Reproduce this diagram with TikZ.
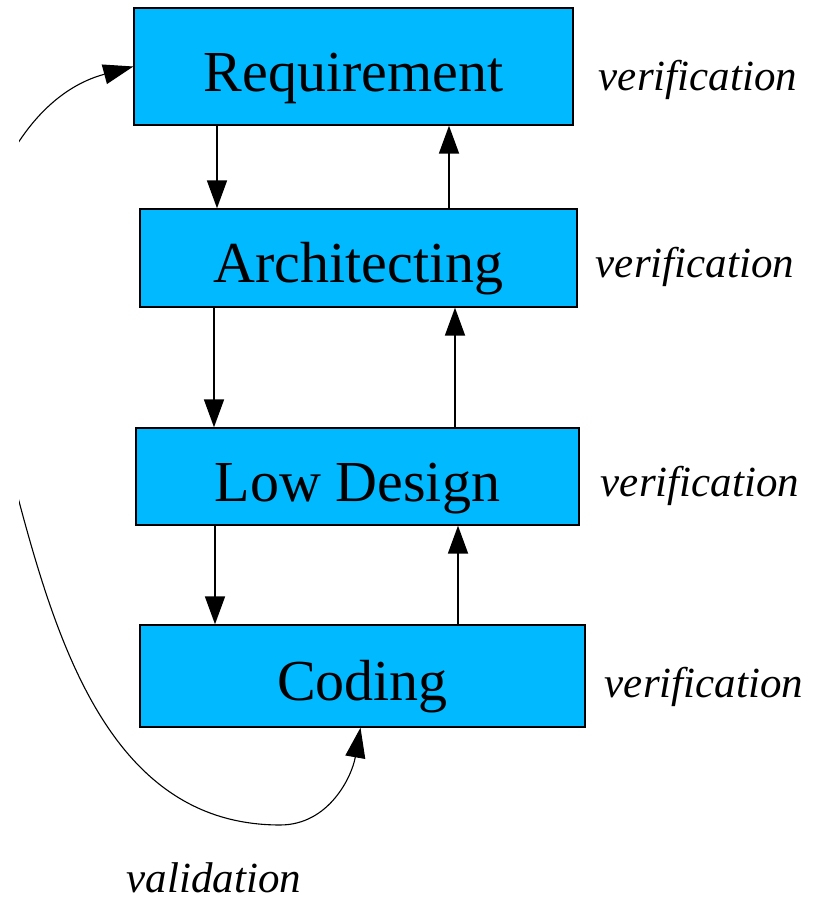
\documentclass[tikz,border=0pt]{standalone}
\usepackage{fontspec}
\setmainfont{Liberation Serif}
\usetikzlibrary{arrows.meta}

\definecolor{boxblue}{RGB}{0,185,255}

\tikzset{
  phase/.style={draw=black, line width=1.4pt, fill=boxblue, inner sep=0pt,
    font=\fontsize{58}{58}\selectfont, text height=50pt, text depth=0pt},
  flow/.style={line width=1.8pt, -{Triangle[length=28pt,width=20pt]}},
  loop/.style={line width=1.1pt, {Triangle[length=30pt,width=20pt]}-{Triangle[length=30pt,width=20pt]}},
  note/.style={font=\fontsize{43}{43}\selectfont\itshape, inner sep=0pt}
}

\begin{document}
\begin{tikzpicture}[x=1pt,y=1pt]

  \useasboundingbox (0,0) rectangle (816,902);

  \node[phase, minimum width=439pt, minimum height=117pt] (req)  at (353.5,835.5) {Requirement};
  \node[phase, minimum width=437pt, minimum height=98pt]  (arch) at (358.5,644)   {Architecting};
  \node[phase, minimum width=443pt, minimum height=97pt]  (lowd) at (357.5,425.5) {Low Design};
  \node[phase, minimum width=445pt, minimum height=102pt] (cod)  at (362.5,226)   {Coding};

  \node[note] (vreq)  at (698,822) {verification};
  \node[note] (varch) at (695,635) {verification};
  \node[note] (vlowd) at (700,416) {verification};
  \node[note] (vcod)  at (704,215) {verification};
  \node[note] (val)   at (214,24)  {validation};

  \coordinate (dn1) at (217,0);
  \coordinate (dn2) at (214,0);
  \coordinate (dn3) at (215,0);
  \coordinate (up1) at (449,0);
  \coordinate (up2) at (455,0);
  \coordinate (up3) at (458,0);

  \draw[flow] (req.south -| dn1)  -- (arch.north -| dn1);
  \draw[flow] (arch.south -| dn2) -- (lowd.north -| dn2);
  \draw[flow] (lowd.south -| dn3) -- (cod.north -| dn3);

  \draw[flow] (arch.north -| up1) -- (req.south -| up1);
  \draw[flow] (lowd.north -| up2) -- (arch.south -| up2);
  \draw[flow] (cod.north -| up3)  -- (lowd.south -| up3);

  \begin{scope}
    \clip (19,0) rectangle (816,902);
    \draw[loop] ([xshift=-2pt]cod.south) to[out=-100,in=0] (280,77)
      to[out=180,in=-75] (20,397)
      to[out=105,in=236] (20,762)
      to[out=56,in=195] (req.west);
  \end{scope}

\end{tikzpicture}
\end{document}
